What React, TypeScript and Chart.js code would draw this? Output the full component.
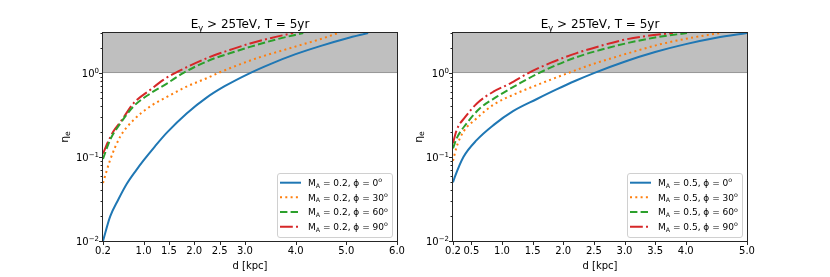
import React, { useEffect, useRef } from 'react';
import { Chart, registerables } from 'chart.js';
Chart.register(...registerables);

const FONT = "'DejaVu Sans', sans-serif";

// ---------- data: left panel (M_A = 0.2) ----------
const L_D0 = [0.2, 0.34, 0.5, 0.67, 0.85, 1.0, 1.23, 1.46, 1.85, 2.25, 2.6, 3.1, 3.5, 4.0, 4.5, 5.0, 5.43];
const L_ETA0 = [0.01, 0.0195, 0.031, 0.048, 0.069, 0.091, 0.135, 0.195, 0.33, 0.513, 0.697, 1.0, 1.28, 1.68, 2.11, 2.58, 3.0];
const L_D1 = [0.2, 0.34, 0.54, 0.8, 1.13, 1.46, 1.85, 2.25, 2.47, 2.9, 3.3, 3.7, 4.09, 4.5, 4.84];
const L_ETA1 = [0.049, 0.092, 0.175, 0.275, 0.4, 0.52, 0.69, 0.87, 1.0, 1.27, 1.55, 1.83, 2.15, 2.55, 3.0];
const L_D2 = [0.2, 0.34, 0.54, 0.8, 1.13, 1.46, 1.78, 2.3, 2.7, 3.1, 3.6, 4.15];
const L_ETA2 = [0.095, 0.16, 0.25, 0.4, 0.57, 0.75, 1.0, 1.42, 1.72, 2.05, 2.5, 3.0];
const L_D3 = [0.2, 0.3, 0.4, 0.57, 0.8, 1.13, 1.39, 1.62, 2.3, 2.7, 3.1, 3.5, 3.95];
const L_ETA3 = [0.11, 0.152, 0.2, 0.275, 0.435, 0.63, 0.83, 1.0, 1.55, 1.88, 2.25, 2.6, 3.0];

// ---------- data: right panel (M_A = 0.5) ----------
const R_D0 = [0.2, 0.23, 0.37, 0.59, 0.86, 1.18, 1.57, 1.89, 2.2, 2.5, 3.0, 3.5, 4.0, 4.5, 5.0];
const R_ETA0 = [0.05, 0.058, 0.1, 0.16, 0.24, 0.352, 0.491, 0.638, 0.81, 1.0, 1.365, 1.78, 2.21, 2.63, 3.0];
const R_D1 = [0.2, 0.26, 0.37, 0.59, 0.86, 1.18, 1.57, 2.08, 2.4, 2.76, 3.15, 3.58, 4.05, 4.56];
const R_ETA1 = [0.09, 0.133, 0.2, 0.29, 0.42, 0.55, 0.72, 1.0, 1.22, 1.48, 1.8, 2.2, 2.6, 3.0];
const R_D2 = [0.2, 0.26, 0.42, 0.64, 0.91, 1.24, 1.6, 2.22, 2.6, 3.04, 3.5, 4.02];
const R_ETA2 = [0.127, 0.167, 0.25, 0.38, 0.52, 0.72, 1.0, 1.55, 1.88, 2.27, 2.65, 3.0];
const R_D3 = [0.2, 0.26, 0.4, 0.59, 0.86, 1.13, 1.43, 1.8, 2.22, 2.6, 2.97, 3.38, 3.79];
const R_ETA3 = [0.146, 0.21, 0.3, 0.435, 0.6, 0.75, 1.0, 1.33, 1.73, 2.1, 2.47, 2.78, 3.0];

// ---------- axes / labels ----------
const L_X_TICKS = [0.2, 1.0, 1.5, 2.0, 2.5, 3.0, 4.0, 5.0, 6.0];
const R_X_TICKS = [0.2, 0.5, 1.0, 1.5, 2.0, 2.5, 3.0, 3.5, 4.0, 5.0];
const Y_MAJOR = [0.01, 0.1, 1];
const Y_MAJOR_EXP = ['\u22122', '\u22121', '0'];
const Y_MINOR = [0.02, 0.03, 0.04, 0.05, 0.06, 0.07, 0.08, 0.09, 0.2, 0.3, 0.4, 0.5, 0.6, 0.7, 0.8, 0.9, 2, 3];
const BAND = [1, 3];
const PHI = ['0', '30', '60', '90'];

// ---------- styles ----------
const COLORS = ['#1f77b4', '#ff7f0e', '#2ca02c', '#d62728'];
const DASHES: number[][] = [[], [2, 3.3], [7.4, 3.2], [12.8, 3.2, 2, 3.2]];

type Part = { t: string; s: number; dy?: number };

function drawRich(ctx: CanvasRenderingContext2D, parts: Part[], x: number, y: number, align: 'left' | 'center' | 'right') {
  let w = 0;
  for (const p of parts) {
    ctx.font = `${p.s}px ${FONT}`;
    w += ctx.measureText(p.t).width;
  }
  let cx = align === 'left' ? x : align === 'center' ? x - w / 2 : x - w;
  ctx.textAlign = 'left';
  ctx.textBaseline = 'alphabetic';
  for (const p of parts) {
    ctx.font = `${p.s}px ${FONT}`;
    ctx.fillText(p.t, cx, y + (p.dy || 0));
    cx += ctx.measureText(p.t).width;
  }
}

type PanelCfg = {
  mA: string;
  xMax: number;
  xTicks: number[];
  ds: number[][];
  etas: number[][];
  area: { left: number; right: number; top: number; bottom: number };
  yLabelX: number;
};

const PANELS: PanelCfg[] = [
  {
    mA: '0.2', xMax: 6.0, xTicks: L_X_TICKS,
    ds: [L_D0, L_D1, L_D2, L_D3], etas: [L_ETA0, L_ETA1, L_ETA2, L_ETA3],
    area: { left: 103, right: 397, top: 33, bottom: 241 }, yLabelX: 65,
  },
  {
    mA: '0.5', xMax: 5.0, xTicks: R_X_TICKS,
    ds: [R_D0, R_D1, R_D2, R_D3], etas: [R_ETA0, R_ETA1, R_ETA2, R_ETA3],
    area: { left: 453, right: 747, top: 33, bottom: 241 }, yLabelX: 419,
  },
];

function makeDecor(cfg: PanelCfg) {
  return {
    id: 'decor',
    beforeDatasetsDraw(chart: any) {
      const { ctx, chartArea: a, scales } = chart;
      const y = scales.y;
      const yTop = y.getPixelForValue(BAND[1]);
      const yBot = y.getPixelForValue(BAND[0]);
      ctx.save();
      ctx.fillStyle = 'rgba(128,128,128,0.5)';
      ctx.fillRect(a.left, yTop, a.right - a.left, yBot - yTop);
      ctx.strokeStyle = 'rgba(128,128,128,0.6)';
      ctx.lineWidth = 1;
      ctx.beginPath();
      ctx.moveTo(a.left, Math.round(yBot) - 0.5);
      ctx.lineTo(a.right, Math.round(yBot) - 0.5);
      ctx.stroke();
      ctx.restore();
    },
    afterDraw(chart: any) {
      const { ctx, chartArea: a, scales } = chart;
      const x = scales.x;
      const y = scales.y;
      ctx.save();
      // frame
      ctx.strokeStyle = '#262626';
      ctx.lineWidth = 1;
      ctx.setLineDash([]);
      const L = Math.round(a.left) - 0.5, R = Math.round(a.right) + 0.5;
      const T = Math.round(a.top) - 0.5, B = Math.round(a.bottom) + 0.5;
      ctx.strokeRect(L, T, R - L, B - T);
      // x ticks
      ctx.beginPath();
      for (const v of cfg.xTicks) {
        const px = Math.round(x.getPixelForValue(v)) + 0.5;
        ctx.moveTo(px, B);
        ctx.lineTo(px, B + 3.5);
      }
      // y ticks
      for (const v of Y_MAJOR) {
        const py = Math.round(y.getPixelForValue(v)) + 0.5;
        ctx.moveTo(L, py);
        ctx.lineTo(L - 3.5, py);
      }
      for (const v of Y_MINOR) {
        const py = Math.round(y.getPixelForValue(v)) + 0.5;
        ctx.moveTo(L, py);
        ctx.lineTo(L - 2, py);
      }
      ctx.stroke();

      ctx.fillStyle = '#000';
      // y tick labels
      Y_MAJOR.forEach((v, i) => {
        const py = y.getPixelForValue(v);
        drawRich(ctx, [{ t: '10', s: 10 }, { t: Y_MAJOR_EXP[i], s: 7, dy: -4.5 }], a.left - 4, py + 4, 'right');
      });
      // title
      const cx = (a.left + a.right) / 2;
      drawRich(ctx, [
        { t: 'E', s: 12 },
        { t: '\u03b3', s: 8.4, dy: 2.5 },
        { t: ' > 25TeV, T = 5yr', s: 12 },
      ], cx, 28, 'center');
      // x label
      drawRich(ctx, [{ t: 'd [kpc]', s: 10 }], cx, 269, 'center');
      // y label
      ctx.save();
      ctx.translate(cfg.yLabelX, (a.top + a.bottom) / 2);
      ctx.rotate(-Math.PI / 2);
      drawRich(ctx, [{ t: '\u03b7', s: 11 }, { t: 'e', s: 7.7, dy: 2 }], 0, 3, 'center');
      ctx.restore();

      // legend
      const bw = 115, bh = 64;
      const bx = a.right - 5 - bw, by = a.bottom - 4 - bh;
      ctx.beginPath();
      const r = 2.5;
      ctx.moveTo(bx + r + 0.5, by + 0.5);
      ctx.arcTo(bx + bw + 0.5, by + 0.5, bx + bw + 0.5, by + bh + 0.5, r);
      ctx.arcTo(bx + bw + 0.5, by + bh + 0.5, bx + 0.5, by + bh + 0.5, r);
      ctx.arcTo(bx + 0.5, by + bh + 0.5, bx + 0.5, by + 0.5, r);
      ctx.arcTo(bx + 0.5, by + 0.5, bx + bw + 0.5, by + 0.5, r);
      ctx.closePath();
      ctx.fillStyle = 'rgba(255,255,255,0.8)';
      ctx.fill();
      ctx.strokeStyle = '#d0d0d0';
      ctx.lineWidth = 1;
      ctx.stroke();
      chart.data.datasets.forEach((ds: any, i: number) => {
        const ry = by + 9.7 + i * 14.67;
        ctx.save();
        ctx.strokeStyle = ds.borderColor;
        ctx.lineWidth = ds.borderWidth;
        ctx.setLineDash(ds.borderDash || []);
        ctx.beginPath();
        ctx.moveTo(bx + 3, ry);
        ctx.lineTo(bx + 24, ry);
        ctx.stroke();
        ctx.restore();
        ctx.fillStyle = '#000';
        drawRich(ctx, [
          { t: 'M', s: 9 },
          { t: 'A', s: 6.3, dy: 1.8 },
          { t: ' = ' + cfg.mA + ', \u03d5 = ' + PHI[i], s: 9 },
          { t: 'o', s: 6.3, dy: -3.6 },
        ], bx + 31, ry + 3.3, 'left');
      });
      ctx.restore();
    },
  };
}

function Panel({ cfg }: { cfg: PanelCfg }) {
  const ref = useRef<HTMLCanvasElement>(null);
  useEffect(() => {
    if (!ref.current) return;
    const datasets = cfg.ds.map((d, i) => ({
      label: 'phi ' + PHI[i],
      data: d.map((dv, j) => ({ x: dv, y: cfg.etas[i][j] })),
      borderColor: COLORS[i],
      backgroundColor: COLORS[i],
      borderWidth: 2,
      borderDash: DASHES[i],
      fill: false,
      pointRadius: 0,
      cubicInterpolationMode: 'monotone' as const,
    }));
    const a = cfg.area;
    const chart = new Chart(ref.current, {
      type: 'line',
      data: { datasets },
      options: {
        animation: false,
        responsive: false,
        devicePixelRatio: 1,
        layout: { padding: { left: a.left - 10, right: 830 - a.right, top: a.top, bottom: 277 - a.bottom - 20 } },
        plugins: { legend: { display: false }, title: { display: false }, tooltip: { enabled: false } },
        elements: { point: { radius: 0 } },
        scales: {
          x: {
            type: 'linear',
            min: 0.2,
            max: cfg.xMax,
            afterBuildTicks: (s: any) => { s.ticks = cfg.xTicks.map((v) => ({ value: v })); },
            afterFit: (s: any) => { s.height = 20; },
            grid: { display: false, drawTicks: false },
            border: { display: false },
            ticks: {
              autoSkip: false,
              maxRotation: 0,
              minRotation: 0,
              padding: 4,
              color: '#000',
              font: { family: FONT, size: 10 },
              callback: (v: any) => Number(v).toFixed(1),
            },
          },
          y: {
            type: 'logarithmic',
            min: 0.01,
            max: 3,
            afterFit: (s: any) => { s.width = 10; },
            grid: { display: false, drawTicks: false },
            border: { display: false },
            ticks: { display: false },
          },
        },
      } as any,
      plugins: [makeDecor(cfg) as any],
    });
    return () => chart.destroy();
  }, [cfg]);
  return <canvas ref={ref} width={830} height={277} style={{ position: 'absolute', left: 0, top: 0, width: 830, height: 277 }} />;
}

export default function App() {
  return (
    <div style={{ position: 'absolute', left: 0, top: 0, width: 830, height: 277, background: '#fff', overflow: 'hidden' }}>
      {PANELS.map((p, i) => <Panel key={i} cfg={p} />)}
    </div>
  );
}
